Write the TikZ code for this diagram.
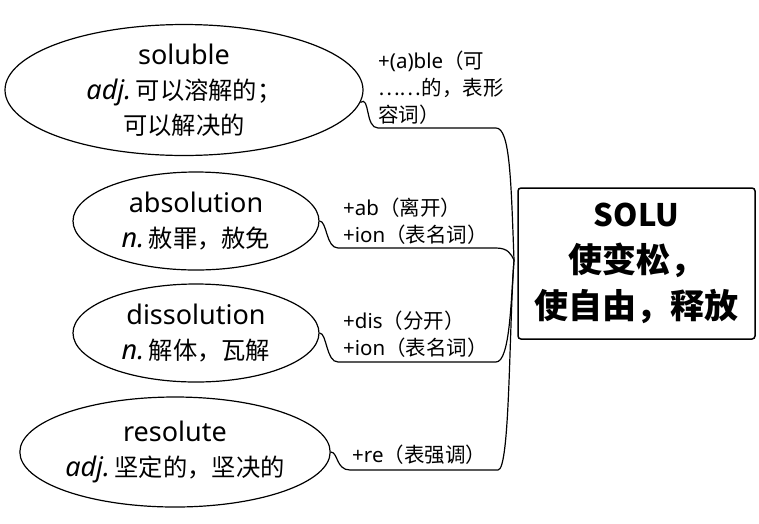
\documentclass[tikz,border=0pt]{standalone}
\usepackage{fontspec}
\setmainfont{Noto Sans}
\newfontfamily\cjk{Noto Sans CJK SC}[Scale=0.9]
\newfontfamily\cjkbig{Noto Sans CJK SC}
\newcommand\zh[1]{{\cjk #1}}
\newcommand\zhl[1]{{\cjkbig #1}}
\usetikzlibrary{shapes.geometric}
\begin{document}
\begin{tikzpicture}[x=1pt,y=-1pt,
  word/.style={ellipse, draw, line width=1.2pt, inner sep=0pt, align=center,
    font=\fontsize{27}{35}\selectfont},
  lab/.style={anchor=south west, align=left, inner sep=0pt,
    font=\fontsize{20.5}{27}\selectfont},
  conn/.style={draw, line width=1.2pt},
  root/.style={draw, line width=1.5pt, rounded corners=3pt, minimum width=237pt,
    minimum height=151pt, align=center, inner sep=0pt,
    font=\cjkbig\bfseries\fontsize{34}{46}\selectfont}]
\useasboundingbox (0,0) rectangle (759,523);

\node[root] (c) at (636.5,263.5) {{\fontsize{31}{46}\selectfont SOLU}\\使变松，\\使自由，释放};
\coordinate (hub) at (514,260);

\node[word, minimum width=358pt, minimum height=124pt] (e1) at (184,90)
  {soluble\\\textit{adj.}\,\zh{可以溶解的；}\\\zh{可以解决的}};
\node[word, minimum width=246pt, minimum height=98pt] (e2) at (196,221)
  {absolution\\\textit{n.}\,\zh{赦罪，赦免}};
\node[word, minimum width=246pt, minimum height=98pt] (e3) at (196,333)
  {dissolution\\\textit{n.}\,\zh{解体，瓦解}};
\node[word, minimum width=310pt, minimum height=110pt] (e4) at (175,452)
  {resolute\\\textit{adj.}\,\zh{坚定的，坚决的}};

\node[lab] (l1) at (378,125) {+(a)ble\zhl{（可}\\\zhl{……的，表形}\\\zhl{容词）}};
\node[lab] (l2) at (343,245) {+ab\zhl{（离开）}\\+ion\zhl{（表名词）}};
\node[lab] (l3) at (343,358) {+dis\zhl{（分开）}\\+ion\zhl{（表名词）}};
\node[lab] (l4) at (352,465) {+re\zhl{（表强调）}};

\draw[conn] (e1.-4) .. controls (370,95) and (365,128) .. (378,128) -- (496,128)
  .. controls (510,128) and (511,180) .. (hub);
\draw[conn] (e2.east) .. controls (327,221) and (326,248) .. (338,248) -- (496,248)
  .. controls (508,248) and (511,254) .. (hub);
\draw[conn] (e3.east) .. controls (327,333) and (326,362) .. (338,362) -- (496,362)
  .. controls (510,362) and (511,300) .. (hub);
\draw[conn] (e4.east) .. controls (338,452) and (336,470) .. (350,470) -- (498,470)
  .. controls (510,470) and (509,330) .. (hub);
\end{tikzpicture}
\end{document}
